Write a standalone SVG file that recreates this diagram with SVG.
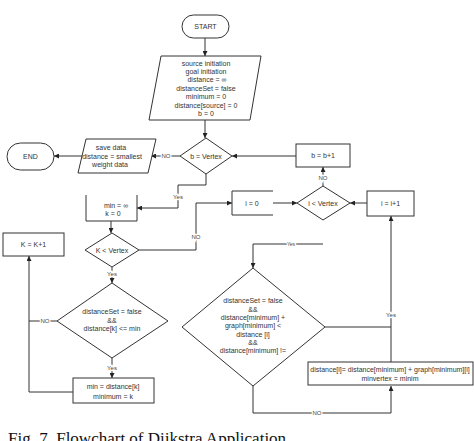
<svg xmlns="http://www.w3.org/2000/svg" width="474" height="441" viewBox="0 0 474 441">
<style>
.s{fill:#fff;stroke:#333;stroke-width:1}
.o{fill:none;stroke:#333;stroke-width:1}
.t{font-family:"Liberation Sans",Arial,sans-serif;font-size:7px;fill:#333;text-anchor:middle}
.l{font-family:"Liberation Sans",Arial,sans-serif;font-size:6px;fill:#444;text-anchor:middle;stroke:#fff;stroke-width:2.5px;paint-order:stroke}
.c{font-family:"Liberation Serif","Times New Roman",serif;font-size:17px;fill:#111}
</style>
<defs>
<marker id="a" viewBox="0 0 10 10" refX="10" refY="5" markerWidth="5" markerHeight="5" orient="auto" markerUnits="userSpaceOnUse">
<path d="M0,0L10,5L0,10z" fill="#222"/>
</marker>
</defs>
<rect width="474" height="441" fill="#fff"/>
<g id="connectors" class="o" marker-end="url(#a)">
<path d="M205,38V56"/>
<path d="M205,120V138"/>
<path d="M180,156H151"/>
<path d="M82,156H54"/>
<path d="M296,156H232"/>
<path d="M323,186V167"/>
<path d="M206,174V185H178V208H137"/>
<path d="M111,221V233"/>
<path d="M139,250H196V203H232"/>
<path d="M273,203H297"/>
<path d="M367,203H350"/>
<path d="M112,267V283"/>
<path d="M112,358V378"/>
<path d="M57,321H29" marker-end="none"/>
<path d="M73,392H29V256"/>
<path d="M323,244H253V268"/>
<path d="M325,327H391" marker-end="none"/>
<path d="M391,362V216"/>
<path d="M253,386V413H391V386"/>
</g>
<g id="labels">
<text class="l" x="166" y="158">NO</text>
<text class="l" x="323" y="180">NO</text>
<text class="l" x="178" y="199">Yes</text>
<text class="l" x="196" y="239">NO</text>
<text class="l" x="112" y="276">Yes</text>
<text class="l" x="112" y="370">Yes</text>
<text class="l" x="45" y="323">NO</text>
<text class="l" x="291" y="246" style="font-size:5px">Yes</text>
<text class="l" x="391" y="317">Yes</text>
<text class="l" x="317" y="415">NO</text>
</g>
<g id="start"><rect class="s" x="182" y="15" width="47" height="23" rx="11.5"/><text class="t" x="205.5" y="29">START</text></g>
<g id="init"><polygon class="s" points="161,56 261,56 250,120 149,120"/>
<text class="t" x="206" y="65.5">source initiation</text>
<text class="t" x="206" y="74">goal initiation</text>
<text class="t" x="207" y="82">distance = ∞</text>
<text class="t" x="206" y="90.5">distanceSet = false</text>
<text class="t" x="206" y="99">minimum = 0</text>
<text class="t" x="206" y="107.5">distance[source] = 0</text>
<text class="t" x="206" y="116">b = 0</text>
</g>
<g id="bVertex"><polygon class="s" points="206,138 232,156 206,174 180,156"/><text class="t" x="206" y="158.5">b = Vertex</text></g>
<g id="save"><polygon class="s" points="86,139 156,139 148,173 78,173"/>
<text class="t" x="111" y="149.5">save data</text>
<text class="t" x="112" y="158.5">distance = smallest</text>
<text class="t" x="110" y="167">weight data</text>
</g>
<g id="end"><rect class="s" x="7" y="143" width="47" height="27" rx="13.5"/><text class="t" x="30.5" y="159">END</text></g>
<g id="bInc"><rect class="s" x="296" y="144" width="54" height="23"/><text class="t" x="323" y="158">b = b+1</text></g>
<g id="iVertex"><polygon class="s" points="323,186 350,203 323,220 297,203"/><text class="t" x="323" y="205.5">i &lt; Vertex</text></g>
<g id="i0"><path class="o" d="M273,191H232V215H273"/><text class="t" x="252" y="205.5">i = 0</text></g>
<g id="iInc"><rect class="s" x="367" y="191" width="47" height="25"/><text class="t" x="390.5" y="205.5">i = i+1</text></g>
<g id="minInit"><path class="o" d="M86,195V221H137V195"/>
<text class="t" x="116" y="207.5">min = ∞</text>
<text class="t" x="113" y="215.5">k = 0</text>
</g>
<g id="kVertex"><polygon class="s" points="112,233 139,250 112,267 85,250"/><text class="t" x="112" y="252.5">K &lt; Vertex</text></g>
<g id="kCheck"><polygon class="s" points="112,283 168,321 112,358 57,321"/>
<text class="t" x="112" y="314">distanceSet = false</text>
<text class="t" x="112" y="322.5">&amp;&amp;</text>
<text class="t" x="112" y="331">distance[k] &lt;= min</text>
</g>
<g id="minSet"><rect class="s" x="73" y="378" width="81" height="25"/>
<text class="t" x="113" y="389">min = distance[k]</text>
<text class="t" x="113" y="398.5">minimum = k</text>
</g>
<g id="kInc"><rect class="s" x="3" y="233" width="61" height="23"/><text class="t" x="33.5" y="247">K = K+1</text></g>
<g id="relax"><polygon class="s" points="253,268 325,327 253,386 182,327"/>
<text class="t" x="253" y="303">distanceSet = false</text>
<text class="t" x="253" y="311.5">&amp;&amp;</text>
<text class="t" x="253" y="320">distance[minimum] +</text>
<text class="t" x="253" y="328">graph[minimum] &lt;</text>
<text class="t" x="253" y="336.5">distance [i]</text>
<text class="t" x="253" y="345">&amp;&amp;</text>
<text class="t" x="253" y="353">distance[minimum] !=</text>
</g>
<g id="update"><rect class="s" x="308" y="362" width="165" height="23"/>
<text class="t" x="390" y="372">distance[i]= distance[minimum] + graph[minimum][i]</text>
<text class="t" x="390" y="381">minvertex = minim</text>
</g>
<text class="c" x="8" y="444">Fig. 7. Flowchart of Dijkstra Application</text>
</svg>
